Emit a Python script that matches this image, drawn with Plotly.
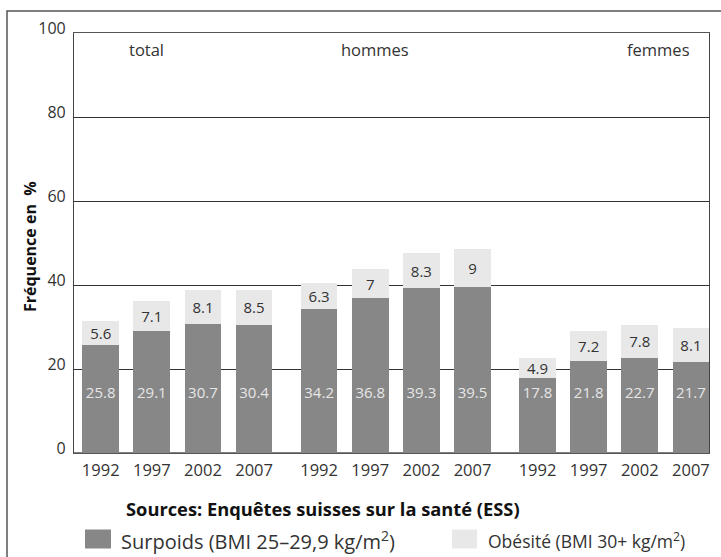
import plotly.graph_objects as go

groups = ["total", "hommes", "femmes"]
years = ["1992", "1997", "2002", "2007"]
surpoids = [25.8, 29.1, 30.7, 30.4, 34.2, 36.8, 39.3, 39.5, 17.8, 21.8, 22.7, 21.7]
obesite = [5.6, 7.1, 8.1, 8.5, 6.3, 7, 8.3, 9, 4.9, 7.2, 7.8, 8.1]
y_ticks = [0, 20, 40, 60, 80, 100]
series_names = ["Surpoids (BMI 25–29,9 kg/m<sup>2</sup>)", "Obésité (BMI 30+ kg/m<sup>2</sup>)"]

GAP = 1.272  # distance between last bar of a group and first bar of the next (in bar slots)
xpos = [g * (len(years) - 1 + GAP) + i for g in range(len(groups)) for i in range(len(years))]
xlabels = years * len(groups)
label_level = 14  # height where the overweight values are printed

FONT = "Open Sans"
DARK = "#878787"
LIGHT = "#e8e8e8"

W, H = 721, 557
ML, MR, MT, MB = 74, 12, 33, 104
PW, PH = W - ML - MR, H - MT - MB


def px(xp):
    return (xp - ML) / PW


def py(yp):
    return (H - MB - yp) / PH


fig = go.Figure()
fig.add_trace(go.Bar(
    x=xpos, y=surpoids, width=0.718, marker=dict(color=DARK, line=dict(width=0)),
    name=series_names[0], hoverinfo="y", showlegend=False,
))
fig.add_trace(go.Bar(
    x=xpos, y=obesite, width=0.718, marker=dict(color=LIGHT, line=dict(width=0)),
    name=series_names[1],
    text=[f"{v:g}" for v in obesite], textposition="inside", insidetextanchor="middle",
    constraintext="none", textfont=dict(family=FONT, size=15, color="#333333"), hoverinfo="y",
    showlegend=False,
))
fig.add_trace(go.Scatter(
    x=xpos, y=[label_level] * len(xpos), mode="text",
    text=[f"{v:g}" for v in surpoids],
    textfont=dict(family=FONT, size=15, color="#e6e6e6"),
    showlegend=False, hoverinfo="skip",
))

annotations = []
# group labels
group_centers_px = [146, 375, 658]
for gname, gx in zip(groups, group_centers_px):
    annotations.append(dict(text=gname, x=px(gx), xref="paper", y=py(50), yref="paper",
                            xanchor="center", yanchor="middle",
                            showarrow=False, font=dict(family=FONT, size=16.5, color="#333333")))
annotations.append(dict(text="<b>Fréquence en\u00a0\u00a0%</b>", x=px(30), y=py(247), xref="paper", yref="paper",
                        xanchor="center", yanchor="middle",
                        textangle=-90, showarrow=False, font=dict(family=FONT, size=16, color="#111111")))
annotations.append(dict(text="<b>Sources: Enquêtes suisses sur la santé (ESS)</b>", x=px(322.5), y=py(508),
                        xref="paper", yref="paper", xanchor="center", yanchor="middle", showarrow=False,
                        font=dict(family=FONT, size=18.3, color="#111111")))

# legend (swatch + label)
legend_items = [
    (DARK, 85, 111, series_names[0], 119, 20),
    (LIGHT, 452, 477, series_names[1], 486, 17.5),
]
shapes = [dict(type="rect", xref="paper", yref="paper", x0=px(7), x1=1.1, y0=-0.35, y1=py(11),
               line=dict(color="#555555", width=1.5), layer="below")]
for color, sx0, sx1, label, tx, fs in legend_items:
    shapes.append(dict(type="rect", xref="paper", yref="paper", x0=px(sx0), x1=px(sx1),
                       y0=py(548.5), y1=py(529.5), fillcolor=color, line=dict(width=0)))
    annotations.append(dict(text=label, x=px(tx), y=py(540), xref="paper", yref="paper",
                            xanchor="left", yanchor="middle", showarrow=False,
                            font=dict(family=FONT, size=fs, color="#333333")))

fig.update_layout(
    width=W, height=H,
    margin=dict(l=ML, r=MR, t=MT, b=MB, pad=0),
    barmode="stack",
    plot_bgcolor="white", paper_bgcolor="white",
    font=dict(family=FONT, size=16, color="#333333"),
    annotations=annotations,
    shapes=shapes,
    showlegend=False,
)
fig.update_xaxes(range=[-0.5225, 11.898], tickvals=xpos, ticktext=xlabels, showgrid=False,
                 showline=True, mirror=True, linecolor="#555555", linewidth=1.2, ticks="",
                 tickfont=dict(family=FONT, size=16.5, color="#333333"), zeroline=False, fixedrange=True,
                 ticklabelstandoff=2)
fig.update_yaxes(range=[0, 100], tickvals=y_ticks, showgrid=True, gridcolor="#333333", gridwidth=1,
                 showline=True, mirror=True, linecolor="#444444", linewidth=1.2, ticks="",
                 zeroline=True, zerolinecolor="#808080", zerolinewidth=2,
                 tickfont=dict(family=FONT, size=16, color="#333333"), ticklabelshift=-5,
                 ticklabelstandoff=4, fixedrange=True)

fig.write_html("out.html", config={"displayModeBar": False},
               post_script="document.body.style.margin='0';")
